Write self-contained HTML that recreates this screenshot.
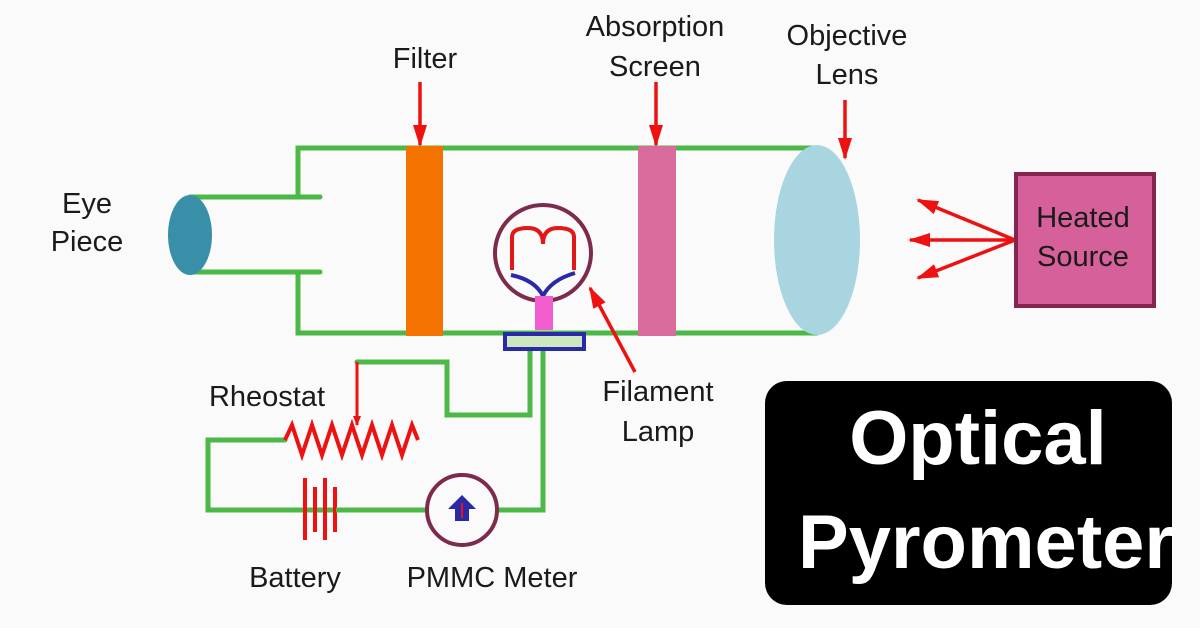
<!DOCTYPE html>
<html><head><style>
body{margin:0;background:#fafafa;}
svg{display:block}
text{font-family:"Liberation Sans",sans-serif;fill:#1a1a1a}
</style></head><body>
<svg width="1200" height="628" viewBox="0 0 1200 628">
<rect width="1200" height="628" fill="#fafafa"/>
<defs>
<marker id="ah" markerWidth="10" markerHeight="8" refX="9" refY="4" orient="auto" markerUnits="userSpaceOnUse"><path d="M0,0 L10,4 L0,8 Z" fill="#ee1111"/></marker>
<marker id="ah2" markerWidth="22" markerHeight="14" refX="20" refY="7" orient="auto" markerUnits="userSpaceOnUse"><path d="M0,0 L22,7 L0,14 Z" fill="#ee1111"/></marker>
</defs>
<g stroke="#4cb848" stroke-width="5" fill="none" stroke-linecap="round">
<path d="M190,197 H320 M190,272 H320"/>
<path d="M298,197 V148 H817 M298,272 V333 H817"/>
<path d="M530,350 V415 H447 V362 H357"/>
<path d="M543,350 V510 H497"/>
<path d="M285,440 H208 V510 H427"/>
</g>
<ellipse cx="190" cy="235" rx="22" ry="40" fill="#3a8fa8"/>
<rect x="406" y="146" width="37" height="190" fill="#f47200"/>
<rect x="638" y="146" width="38" height="190" fill="#d96a9c"/>
<ellipse cx="817" cy="240" rx="43" ry="95" fill="#a9d5e0"/>
<circle cx="543" cy="253" r="48" fill="none" stroke="#7d2b4d" stroke-width="4"/>
<path d="M512,270 V237 Q512,228 528,228 Q543,228 543,244 Q543,228 558,228 Q574,228 574,237 V270" fill="none" stroke="#e01818" stroke-width="4"/>
<path d="M511,275 Q535,280 543,296 Q551,280 575,273" fill="none" stroke="#2a2aa8" stroke-width="4"/>
<rect x="535" y="296" width="18" height="34" fill="#f25ed0"/>
<rect x="505" y="334" width="79" height="15" fill="#cde8c0" stroke="#2a2aa8" stroke-width="4"/>
<polyline points="285,440 292,425 302,455 312,425 322,455 332,425 342,455 352,425 362,455 372,425 382,455 392,425 402,455 412,425 418,440" fill="none" stroke="#ee1111" stroke-width="4"/>
<line x1="357" y1="362" x2="357" y2="425" stroke="#ee1111" stroke-width="3" marker-end="url(#ah)"/>
<g stroke="#ee1111" stroke-width="4"><line x1="305" y1="478" x2="305" y2="540"/><line x1="315" y1="487" x2="315" y2="532"/><line x1="325" y1="478" x2="325" y2="540"/><line x1="335" y1="487" x2="335" y2="532"/></g>
<line x1="336" y1="510" x2="427" y2="510" stroke="#4cb848" stroke-width="5"/>
<circle cx="462" cy="510" r="35" fill="#fafafa" stroke="#7d2b4d" stroke-width="4"/>
<path d="M462,495 L476,509 H469 V521 H455 V509 H448 Z" fill="#2a2aa8"/>
<line x1="462" y1="518" x2="462" y2="503" stroke="#ee1111" stroke-width="2"/>
<g stroke="#ee1111" stroke-width="3.5">
<line x1="420" y1="82" x2="420" y2="145" marker-end="url(#ah2)"/>
<line x1="656" y1="82" x2="656" y2="145" marker-end="url(#ah2)"/>
<line x1="845" y1="100" x2="845" y2="158" marker-end="url(#ah2)"/>
<line x1="635" y1="372" x2="590" y2="288" marker-end="url(#ah2)"/>
<line x1="1015" y1="240" x2="918" y2="200" marker-end="url(#ah2)"/>
<line x1="1015" y1="240" x2="910" y2="240" marker-end="url(#ah2)"/>
<line x1="1015" y1="240" x2="918" y2="278" marker-end="url(#ah2)"/>
</g>
<rect x="1016" y="174" width="138" height="132" fill="#d6609a" stroke="#85254d" stroke-width="4"/>
<g font-size="29" text-anchor="middle">
<text x="1083" y="227">Heated</text>
<text x="1083" y="266">Source</text>
<text x="87" y="213">Eye</text><text x="87" y="251">Piece</text>
<text x="425" y="68">Filter</text>
<text x="655" y="36">Absorption</text><text x="655" y="76">Screen</text>
<text x="847" y="45">Objective</text><text x="847" y="84">Lens</text>
<text x="658" y="401">Filament</text><text x="658" y="441">Lamp</text>
<text x="267" y="406">Rheostat</text>
<text x="295" y="587">Battery</text>
<text x="492" y="587">PMMC Meter</text>
</g>
<rect x="765" y="381" width="407" height="224" rx="22" fill="#000"/>
<text x="978" y="464" font-size="76" font-weight="bold" text-anchor="middle" style="fill:#fff">Optical</text>
<text x="986" y="568" font-size="76" font-weight="bold" text-anchor="middle" style="fill:#fff">Pyrometer</text>
</svg>
</body></html>
